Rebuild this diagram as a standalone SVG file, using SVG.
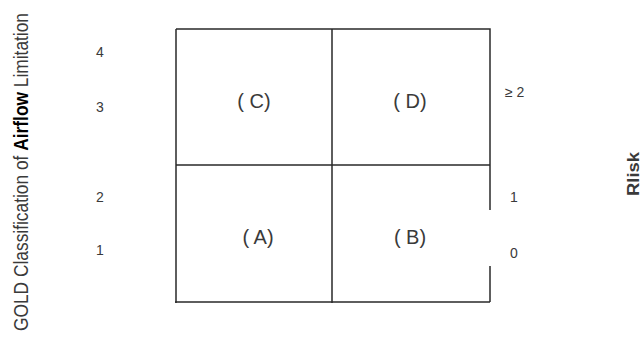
<svg xmlns="http://www.w3.org/2000/svg" width="644" height="346" viewBox="0 0 644 346">
<style>
.t{font-family:"Liberation Sans",Arial,sans-serif;fill:#3a3a3a}
.q{font-size:20px;text-anchor:middle}
.n{font-size:14px;text-anchor:middle}
.g{stroke:#2a2a2a;stroke-width:1.5;fill:none}
</style>
<rect width="644" height="346" fill="#fff"/>
<g id="grid">
<path class="g" d="M176,29 H490 V210 M490,266 V302 M176,29 V303 M175,302 H490 M332,29 V303 M176,165 H490"/>
</g>
<g id="quadC"><text class="t q" x="254" y="108">( C)</text></g>
<g id="quadD"><text class="t q" x="410" y="108">( D)</text></g>
<g id="quadA"><text class="t q" x="258" y="244">( A)</text></g>
<g id="quadB"><text class="t q" x="410" y="244">( B)</text></g>
<g id="yaxis">
<text class="t n" x="100" y="57">4</text>
<text class="t n" x="100" y="112">3</text>
<text class="t n" x="100" y="202">2</text>
<text class="t n" x="100" y="255">1</text>
<text class="t" font-size="20" text-anchor="middle" transform="translate(28,172) rotate(-90)" textLength="318" lengthAdjust="spacingAndGlyphs">GOLD Classification of <tspan font-weight="bold" fill="#000">Airflow</tspan> Limitation</text>
</g>
<g id="riskaxis">
<text class="t" font-size="14" x="505" y="97">≥ 2</text>
<text class="t" font-size="14" x="510" y="202">1</text>
<text class="t" font-size="14" x="510" y="258">0</text>
<text class="t" font-size="16" font-weight="bold" fill="#000" text-anchor="middle" transform="translate(639,174) rotate(-90)" textLength="44" lengthAdjust="spacingAndGlyphs">Rlisk</text>
</g>
</svg>
